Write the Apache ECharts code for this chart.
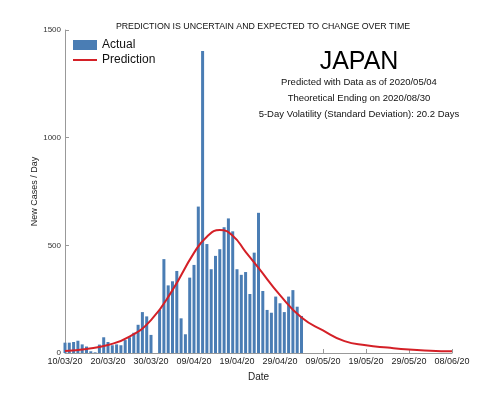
<!DOCTYPE html>
<html>
<head>
<meta charset="utf-8">
<script src="https://cdn.jsdelivr.net/npm/echarts@6/dist/echarts.min.js"></script>
<style>
    html,body{margin:0;padding:0;background:#fff;}
    #chart{width:500px;height:397px;}
</style>
</head>
<body>
<div id="chart"></div>
<script>
// days counted from 10/03/20
var tickLabels=['10/03/20','20/03/20','30/03/20','09/04/20','19/04/20','29/04/20','09/05/20','19/05/20','29/05/20','08/06/20'];
var yTicks=[0,500,1000,1500];
// actual daily cases, day 0 .. day 55
var actual=[48,48,51,57,40,30,8,3,39,73,
    51,36,40,36,60,73,94,131,190,170,
    84,0,200,436,314,333,381,161,87,350,
    409,680,1402,506,389,451,482,584,625,565,
    389,363,376,274,466,651,288,200,187,262,
    231,190,262,292,215,172];
// prediction curve, read at these days
var predDay=[0,5,10,15,20,25,30,33,36,39,42,45,50,55,60,65,70,75,80,85,90];
var predVal=[9,19,37,76,153,292,465,540,571,545,470,395,269,165,105,55,36,25,16,11,8];

var info=[
    'Predicted with Data as of 2020/05/04',
    'Theoretical Ending on 2020/08/30',
    '5-Day Volatility (Standard Deviation): 20.2 Days'
];

var font='"Liberation Sans", Arial, sans-serif';

var myChart=echarts.init(document.getElementById('chart'));

var legendText={fontSize:12,color:'#111',fontFamily:font};

var option={
    animation:false,
    textStyle:{fontFamily:font},
    title:{
        text:'PREDICTION IS UNCERTAIN AND EXPECTED TO CHANGE OVER TIME',
        left:258,
        top:17,
        textAlign:'center',
        textStyle:{fontSize:8.8,fontWeight:'normal',color:'#111',fontFamily:font}
    },
    legend:[
        {
            left:73,
            top:39,
            padding:0,
            itemWidth:24,
            itemHeight:10,
            itemGap:3,
            textStyle:legendText,
            data:[{name:'Actual',icon:'rect'}]
        },
        {
            left:73,
            top:54,
            padding:0,
            itemWidth:24,
            itemHeight:2,
            itemGap:3,
            textStyle:legendText,
            data:[{name:'Prediction',icon:'rect'}]
        }
    ],
    grid:{
        left:65,
        right:48,
        top:30,
        bottom:44
    },
    xAxis:{
        type:'value',
        min:0,
        max:90,
        interval:10,
        name:'Date',
        nameLocation:'middle',
        nameGap:19,
        nameTextStyle:{fontSize:10,color:'#222'},
        axisLine:{lineStyle:{color:'#999'}},
        axisTick:{inside:true,length:4,lineStyle:{color:'#999'}},
        splitLine:{show:false},
        axisLabel:{
            fontSize:9,
            color:'#222',
            margin:4,
            formatter:function(v){
                return tickLabels[Math.round(v/10)];
            }
        }
    },
    yAxis:{
        type:'value',
        min:yTicks[0],
        max:yTicks[yTicks.length-1],
        interval:500,
        name:'New Cases / Day',
        nameLocation:'middle',
        nameGap:26,
        nameMoveOverlap:false,
        nameTextStyle:{fontSize:9,color:'#222'},
        axisLine:{show:true,lineStyle:{color:'#999'}},
        axisTick:{show:true,inside:true,length:4,lineStyle:{color:'#999'}},
        splitLine:{show:false},
        axisLabel:{
            fontSize:8,
            color:'#333',
            margin:4,
            formatter:function(v){return String(v);}
        }
    },
    graphic:[
        {
            type:'text',
            x:359,
            y:50,
            style:{text:'JAPAN',font:'25px '+font,fill:'#000',textAlign:'center'}
        },
        {
            type:'text',
            x:359,
            y:77,
            style:{text:info[0],font:'9.5px '+font,fill:'#111',textAlign:'center'}
        },
        {
            type:'text',
            x:359,
            y:93,
            style:{text:info[1],font:'9.5px '+font,fill:'#111',textAlign:'center'}
        },
        {
            type:'text',
            x:359,
            y:109,
            style:{text:info[2],font:'9.5px '+font,fill:'#111',textAlign:'center'}
        }
    ],
    series:[
        {
            name:'Actual',
            type:'bar',
            barWidth:3,
            itemStyle:{color:'#4a7db4'},
            data:actual.map(function(v,i){return [i,v];})
        },
        {
            name:'Prediction',
            type:'line',
            smooth:0.5,
            symbol:'none',
            z:5,
            lineStyle:{color:'#d42027',width:2},
            itemStyle:{color:'#d42027'},
            data:predDay.map(function(d,i){return [d,predVal[i]];})
        }
    ]
};

myChart.setOption(option);
</script>
</body>
</html>
